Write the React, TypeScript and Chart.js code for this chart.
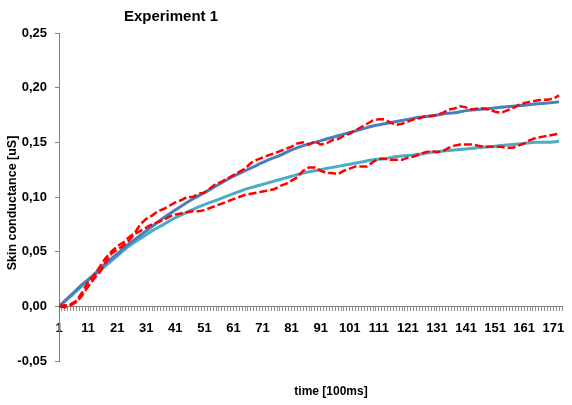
import React, { useEffect, useRef } from "react";
import { Chart, registerables } from "chart.js";

Chart.register(...registerables);

const TITLE = "Experiment 1";
const Y_TITLE = "Skin conductance [uS]";
const X_TITLE = "time [100ms]";

const X_MIN = 1;
const X_MAX = 174;
const Y_MIN = -0.05;
const Y_MAX = 0.25;
const Y_STEP = 0.05;
const X_LABEL_EVERY = 10;

// measured series, sampled every 2 time steps starting at t = 1
const RED_STEP = 2;
const RED_UPPER = [
  0.000, 0.001, 0.002, 0.005, 0.013, 0.022, 0.028, 0.036, 0.044, 0.050,
  0.055, 0.058, 0.063, 0.067, 0.075, 0.080, 0.083, 0.087, 0.089, 0.092,
  0.095, 0.097, 0.100, 0.100, 0.103, 0.104, 0.108, 0.112, 0.114, 0.117,
  0.120, 0.123, 0.126, 0.131, 0.134, 0.136, 0.138, 0.140, 0.142, 0.144,
  0.146, 0.149, 0.150, 0.148, 0.151, 0.148, 0.149, 0.152, 0.153, 0.156,
  0.158, 0.161, 0.164, 0.167, 0.170, 0.171, 0.171, 0.168, 0.166, 0.167,
  0.169, 0.171, 0.172, 0.174, 0.174, 0.175, 0.177, 0.180, 0.181, 0.183,
  0.182, 0.180, 0.181, 0.181, 0.180, 0.178, 0.177, 0.179, 0.181, 0.184,
  0.186, 0.187, 0.188, 0.189, 0.189, 0.190, 0.193,
];
const RED_LOWER = [
  0.000, -0.001, 0.001, 0.004, 0.010, 0.018, 0.025, 0.031, 0.040, 0.048,
  0.052, 0.055, 0.060, 0.066, 0.069, 0.072, 0.075, 0.077, 0.079, 0.082,
  0.084, 0.085, 0.086, 0.087, 0.087, 0.088, 0.090, 0.092, 0.094, 0.096,
  0.098, 0.100, 0.102, 0.103, 0.104, 0.105, 0.106, 0.107, 0.110, 0.112,
  0.115, 0.118, 0.124, 0.127, 0.127, 0.124, 0.122, 0.122, 0.121, 0.124,
  0.126, 0.128, 0.128, 0.128, 0.132, 0.135, 0.135, 0.134, 0.134, 0.134,
  0.136, 0.137, 0.139, 0.141, 0.142, 0.141, 0.142, 0.145, 0.147, 0.148,
  0.148, 0.148, 0.147, 0.146, 0.146, 0.146, 0.146, 0.145, 0.145, 0.147,
  0.149, 0.152, 0.154, 0.155, 0.156, 0.157, 0.158,
];

// fitted curves, sampled every 4 time steps starting at t = 1
const FIT_STEP = 4;
const FIT_UPPER = [
  0.000, 0.010, 0.020, 0.029, 0.039, 0.048, 0.057, 0.065, 0.073, 0.081,
  0.088, 0.095, 0.101, 0.107, 0.113, 0.119, 0.124, 0.129, 0.134, 0.138,
  0.143, 0.147, 0.150, 0.153, 0.156, 0.159, 0.162, 0.165, 0.167, 0.169,
  0.171, 0.173, 0.174, 0.176, 0.177, 0.179, 0.180, 0.181, 0.182, 0.183,
  0.184, 0.185, 0.186, 0.187,
];
const FIT_LOWER = [
  0.000, 0.009, 0.019, 0.028, 0.037, 0.046, 0.055, 0.062, 0.069, 0.075,
  0.081, 0.086, 0.091, 0.095, 0.099, 0.103, 0.107, 0.110, 0.113, 0.116,
  0.119, 0.122, 0.124, 0.126, 0.128, 0.130, 0.132, 0.134, 0.135, 0.137,
  0.138, 0.139, 0.141, 0.142, 0.143, 0.144, 0.145, 0.146, 0.147, 0.148,
  0.149, 0.150, 0.150, 0.151,
];

const toPoints = (vals: number[], step: number) =>
  vals.map((v, i) => ({ x: X_MIN + i * step, y: v }));

const FONT = '"Liberation Sans", Arial, sans-serif';

export default function App() {
  const ref = useRef<HTMLCanvasElement | null>(null);

  useEffect(() => {
    if (!ref.current) return;

    const titlesPlugin = {
      id: "customTitles",
      afterDraw(chart: any) {
        const ctx = chart.ctx;
        ctx.save();
        ctx.fillStyle = "#000";
        ctx.textAlign = "center";
        ctx.textBaseline = "middle";
        ctx.font = `bold 15px ${FONT}`;
        ctx.fillText(TITLE, 171, 17);
        ctx.font = `bold 12px ${FONT}`;
        ctx.fillText(X_TITLE, 331, 392);
        ctx.translate(13, 203);
        ctx.rotate(-Math.PI / 2);
        ctx.font = `bold 12.5px ${FONT}`;
        ctx.fillText(Y_TITLE, 0, 0);
        ctx.restore();
      },
    };

    const chart = new Chart(ref.current, {
      type: "line",
      data: {
        datasets: [
          {
            label: "measured 1",
            data: toPoints(RED_UPPER, RED_STEP),
            borderColor: "#ff0000",
            borderWidth: 2.5,
            borderDash: [8, 3],
            pointRadius: 0,
            tension: 0,
          },
          {
            label: "measured 2",
            data: toPoints(RED_LOWER, RED_STEP),
            borderColor: "#ff0000",
            borderWidth: 2.5,
            borderDash: [8, 3],
            pointRadius: 0,
            tension: 0,
          },
          {
            label: "fit 1",
            data: toPoints(FIT_UPPER, FIT_STEP),
            borderColor: "#4a7ebb",
            borderWidth: 3,
            pointRadius: 0,
            cubicInterpolationMode: "monotone",
          },
          {
            label: "fit 2",
            data: toPoints(FIT_LOWER, FIT_STEP),
            borderColor: "#4bacc6",
            borderWidth: 3,
            pointRadius: 0,
            cubicInterpolationMode: "monotone",
          },
        ],
      },
      options: {
        responsive: false,
        animation: false,
        parsing: true,
        layout: { padding: { top: 33, bottom: 44, left: 0, right: 1 } },
        plugins: {
          legend: { display: false },
          title: { display: false },
          tooltip: { enabled: false },
        },
        scales: {
          x: {
            type: "linear",
            min: X_MIN,
            max: X_MAX,
            position: { y: 0 },
            grid: {
              drawOnChartArea: false,
              drawTicks: true,
              tickLength: 4,
              color: "#909090",
            },
            border: { display: true, color: "#808080", width: 1 },
            ticks: {
              stepSize: 1,
              autoSkip: false,
              maxRotation: 0,
              padding: 10,
              color: "#000",
              font: { family: FONT, size: 13, weight: "bold" },
              callback: (v: any) =>
                (Number(v) - X_MIN) % X_LABEL_EVERY === 0 ? String(v) : "",
            },
          },
          y: {
            type: "linear",
            min: Y_MIN,
            max: Y_MAX,
            afterFit: (scale: any) => {
              scale.width = 59;
            },
            grid: {
              drawOnChartArea: false,
              drawTicks: true,
              tickLength: 4,
              color: "#808080",
            },
            border: { display: true, color: "#808080", width: 1 },
            ticks: {
              stepSize: Y_STEP,
              padding: 8,
              color: "#000",
              font: { family: FONT, size: 13, weight: "bold" },
              callback: (v: any) => {
                const n = Math.abs(Number(v)) < 1e-9 ? 0 : Number(v);
                return n.toFixed(2).replace(".", ",");
              },
            },
          },
        },
      },
      plugins: [titlesPlugin],
    } as any);

    return () => chart.destroy();
  }, []);

  return (
    <div style={{ position: "absolute", left: 0, top: 0, width: 572, height: 405, background: "#fff" }}>
      <canvas ref={ref} width={572} height={405} style={{ display: "block" }} />
    </div>
  );
}
